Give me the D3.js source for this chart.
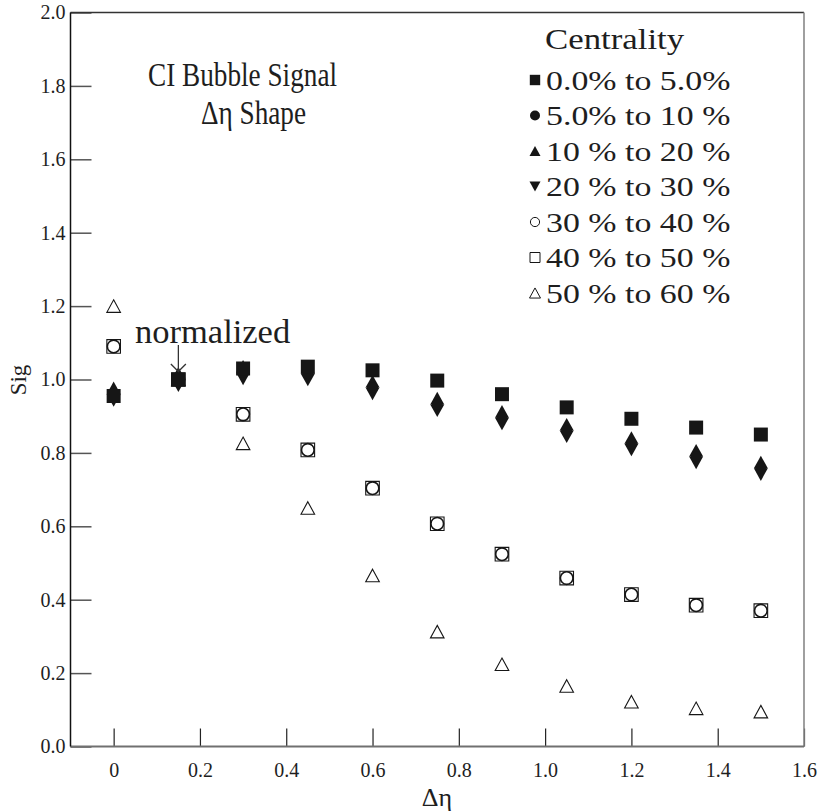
<!DOCTYPE html>
<html>
<head>
<meta charset="utf-8">
<script src="https://cdn.jsdelivr.net/npm/d3@7"></script>
<style>
  html, body { margin: 0; padding: 0; background: #fff; }
  svg text { font-family: "Liberation Serif", "Times New Roman", serif; fill: #1e1e1e; }
</style>
</head>
<body>
<svg id="chart" width="818" height="811"></svg>
<script>
// Δη bins
const deltaEta = [0, 0.15, 0.30, 0.45, 0.60, 0.75, 0.90, 1.05, 1.20, 1.35, 1.50];

// Sig per centrality bin (normalized at Δη = 0.15)
const sig0to5   = [0.955, 1.0, 1.030, 1.035, 1.025, 0.997, 0.960, 0.924, 0.893, 0.869, 0.850];
const sig5to10  = [0.960, 1.0, 1.019, 1.016, 0.978, 0.932, 0.896, 0.861, 0.825, 0.790, 0.758];
const sig10to20 = [0.960, 1.0, 1.019, 1.016, 0.978, 0.932, 0.896, 0.861, 0.825, 0.790, 0.758];
const sig20to30 = [0.960, 1.0, 1.019, 1.016, 0.978, 0.932, 0.896, 0.861, 0.825, 0.790, 0.758];
const sig30to40 = [1.090, 1.0, 0.905, 0.808, 0.704, 0.607, 0.524, 0.459, 0.414, 0.385, 0.370];
const sig40to50 = [1.090, 1.0, 0.905, 0.808, 0.704, 0.607, 0.524, 0.459, 0.414, 0.385, 0.370];
const sig50to60 = [1.200, 1.0, 0.826, 0.650, 0.466, 0.313, 0.224, 0.165, 0.122, 0.104, 0.095];

const centralityLabels = [
  "0.0% to 5.0%", "5.0% to 10 %", "10 % to 20 %", "20 % to 30 %",
  "30 % to 40 %", "40 % to 50 %", "50 % to 60 %"
];

const xTicks = [0, 0.2, 0.4, 0.6, 0.8, 1.0, 1.2, 1.4, 1.6];
const yTicks = [0, 0.2, 0.4, 0.6, 0.8, 1.0, 1.2, 1.4, 1.6, 1.8, 2.0];

const svg = d3.select("#chart");
const ink = "#161616";

const x = d3.scaleLinear().domain([-0.1, 1.6]).range([70.5, 804]);
const y = d3.scaleLinear().domain([0, 2]).range([746.5, 12.5]);

// ---- custom marker shapes ----
// half-diamonds: triangles resting on the data point (up) or hanging from it (down)
const triUpOnBase = {
  draw(ctx, size) { const w = size, h = size * 1.8;
    ctx.moveTo(0, -h); ctx.lineTo(w, 0); ctx.lineTo(-w, 0); ctx.closePath(); }
};
const triDownFromBase = {
  draw(ctx, size) { const w = size, h = size * 1.8;
    ctx.moveTo(0, h); ctx.lineTo(w, 0); ctx.lineTo(-w, 0); ctx.closePath(); }
};
const squareHalf = {
  draw(ctx, size) { ctx.rect(-size, -size, 2 * size, 2 * size); }
};
const circleR = {
  draw(ctx, size) { ctx.moveTo(size, 0); ctx.arc(0, 0, size, 0, 2 * Math.PI); }
};
// triangle with its bounding box centred on the point
const triBox = {
  draw(ctx, size) { const w = size, h = size * 0.92;
    ctx.moveTo(0, -h); ctx.lineTo(w, h); ctx.lineTo(-w, h); ctx.closePath(); }
};
const triDownBox = {
  draw(ctx, size) { const w = size, h = size * 0.92;
    ctx.moveTo(0, h); ctx.lineTo(w, -h); ctx.lineTo(-w, -h); ctx.closePath(); }
};

const series = [
  { values: sig0to5,   type: squareHalf,      size: 7,   fill: ink,    stroke: "none", sw: 0 },
  { values: sig5to10,  type: circleR,         size: 5.5, fill: ink,    stroke: "none", sw: 0 },
  { values: sig10to20, type: triUpOnBase,     size: 7,   fill: ink,    stroke: "none", sw: 0 },
  { values: sig20to30, type: triDownFromBase, size: 7,   fill: ink,    stroke: "none", sw: 0 },
  { values: sig30to40, type: circleR,         size: 6.3, fill: "none", stroke: ink,    sw: 1.6 },
  { values: sig40to50, type: squareHalf,      size: 6.8, fill: "none", stroke: ink,    sw: 1.1 },
  { values: sig50to60, type: triBox,          size: 6.8, fill: "none", stroke: ink,    sw: 1.1 }
];

// legend uses plain small symbols
const legendShapes = [
  { type: squareHalf, size: 5.2, fill: ink, stroke: "none", sw: 0 },
  { type: circleR,    size: 5,   fill: ink, stroke: "none", sw: 0 },
  { type: triBox,     size: 5.5, fill: ink, stroke: "none", sw: 0 },
  { type: triDownBox, size: 5.5, fill: ink, stroke: "none", sw: 0 },
  { type: circleR,    size: 4.6, fill: "none", stroke: ink, sw: 1 },
  { type: squareHalf, size: 5,   fill: "none", stroke: ink, sw: 1 },
  { type: triBox,     size: 5.5, fill: "none", stroke: ink, sw: 1 }
];

// ---- axes ----
const yAxis = d3.axisLeft(y).tickValues(yTicks).tickFormat(d3.format(".1f"))
  .tickSizeInner(-21).tickSizeOuter(0).tickPadding(5);
const gy = svg.append("g").attr("transform", `translate(${x.range()[0]},0)`).call(yAxis);
gy.select(".domain").remove();
gy.selectAll(".tick line").attr("stroke", "#555").attr("stroke-width", 1.5);
gy.selectAll(".tick text").attr("font-size", 20).attr("fill", "#1e1e1e")
  .attr("font-family", "Liberation Serif, serif");

const xAxis = d3.axisBottom(x).tickValues(xTicks)
  .tickFormat(d => d === 0 ? "0" : d3.format(".1f")(d))
  .tickSizeInner(-18).tickSizeOuter(0).tickPadding(16);
const gx = svg.append("g").attr("transform", `translate(0,${y.range()[0]})`).call(xAxis);
gx.select(".domain").remove();
gx.selectAll(".tick line").attr("stroke", "#222").attr("stroke-width", 1.2);
gx.selectAll(".tick text").attr("font-size", 20).attr("fill", "#1e1e1e")
  .attr("font-family", "Liberation Serif, serif");

// frame
const [x0, x1] = x.range(), [yb, yt] = y.range();
svg.append("line").attr("x1", x0).attr("x2", x1).attr("y1", yt).attr("y2", yt)
  .attr("stroke", "#333").attr("stroke-width", 1.3);
svg.append("line").attr("x1", x1).attr("x2", x1).attr("y1", yt).attr("y2", yb)
  .attr("stroke", "#888").attr("stroke-width", 1.6);
svg.append("line").attr("x1", x0).attr("x2", x1).attr("y1", yb).attr("y2", yb)
  .attr("stroke", "#707070").attr("stroke-width", 2);
svg.append("line").attr("x1", x0).attr("x2", x0).attr("y1", yt).attr("y2", yb)
  .attr("stroke", "#111").attr("stroke-width", 1.5);

// axis titles
svg.append("text").attr("x", 437).attr("y", 806).attr("text-anchor", "middle")
  .attr("font-size", 26).text("Δη");
svg.append("text").attr("transform", "translate(26,380) rotate(-90)")
  .attr("text-anchor", "middle").attr("font-size", 23).text("Sig");

// ---- markers (lowest bin drawn last so it sits on top) ----
const plot = svg.append("g");
series.slice().reverse().forEach(s => {
  plot.append("g").selectAll("path")
    .data(deltaEta.map((d, i) => [d, s.values[i]]))
    .join("path")
    .attr("d", d3.symbol().type(s.type).size(s.size))
    .attr("transform", d => `translate(${x(d[0])},${y(d[1])})`)
    .attr("fill", s.fill).attr("stroke", s.stroke).attr("stroke-width", s.sw);
});

// ---- annotations ----
svg.append("text").attr("transform", "translate(242.5,86) scale(0.825,1)")
  .attr("text-anchor", "middle").attr("font-size", 33).text("CI Bubble Signal");
svg.append("text").attr("transform", "translate(253.5,124) scale(0.825,1)")
  .attr("text-anchor", "middle").attr("font-size", 33).text("Δη Shape");

svg.append("text").attr("x", 135).attr("y", 343).attr("font-size", 34.5).text("normalized");
const ax = x(0.15);
svg.append("line").attr("x1", ax).attr("x2", ax).attr("y1", 345).attr("y2", 371)
  .attr("stroke", "#333").attr("stroke-width", 1.3);
svg.append("path").attr("d", `M${ax - 7.5},${364} L${ax},${371.5} L${ax + 7.5},${364}`)
  .attr("fill", "none").attr("stroke", "#333").attr("stroke-width", 1.3);

// ---- legend ----
const lg = svg.append("g");
lg.append("text").attr("transform", "translate(545,48.5) scale(1.2,1)")
  .attr("font-size", 29).text("Centrality");
centralityLabels.forEach((lab, i) => {
  const cy = 80 + 35.5 * i;
  const sh = legendShapes[i];
  lg.append("path").attr("d", d3.symbol().type(sh.type).size(sh.size)())
    .attr("transform", `translate(535,${cy})`)
    .attr("fill", sh.fill).attr("stroke", sh.stroke).attr("stroke-width", sh.sw);
  lg.append("text").attr("transform", `translate(546,${cy + 9.5}) scale(1.21,1)`)
    .attr("font-size", 28).text(lab);
});
</script>
</body>
</html>
